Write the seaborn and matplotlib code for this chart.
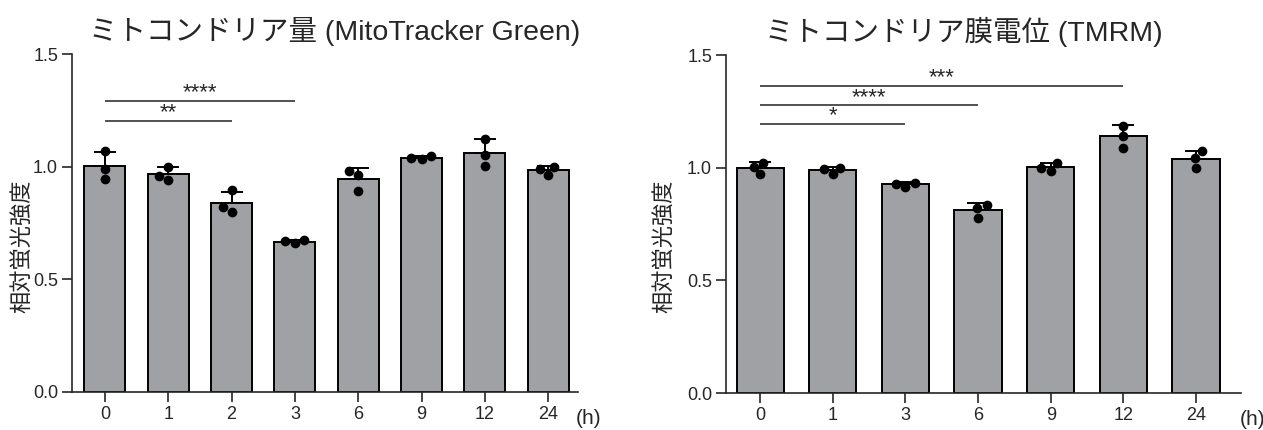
import pandas as pd
import numpy as np
import matplotlib
matplotlib.use("Agg")
import matplotlib.pyplot as plt
import seaborn as sns

# left panel: MitoTracker Green, three replicates per time point
green_times = ["0", "1", "2", "3", "6", "9", "12", "24"]
green_vals = [
    [1.07, 0.99, 0.945],
    [1.0, 0.94, 0.96],
    [0.895, 0.80, 0.82],
    [0.66, 0.675, 0.668],
    [0.982, 0.964, 0.89],
    [1.035, 1.046, 1.04],
    [1.125, 1.05, 1.005],
    [0.963, 0.999, 0.988],
]
green_sig = [("0", "2", "**", 1.204), ("0", "3", "****", 1.293)]

# right panel: TMRM
tmrm_times = ["0", "1", "3", "6", "9", "12", "24"]
tmrm_vals = [
    [1.02, 0.97, 1.003],
    [0.97, 1.0, 0.994],
    [0.916, 0.933, 0.929],
    [0.836, 0.821, 0.778],
    [0.987, 1.02, 1.0],
    [1.187, 1.141, 1.089],
    [1.074, 1.042, 0.999],
]
tmrm_sig = [("0", "3", "*", 1.196), ("0", "6", "****", 1.277), ("0", "12", "***", 1.364)]

titles = ["ミトコンドリア量 (MitoTracker Green)", "ミトコンドリア膜電位 (TMRM)"]
ylabel = "相対蛍光強度"
yticks = [0.0, 0.5, 1.0, 1.5]

sns.set_style("ticks")
plt.rcParams["font.family"] = ["Liberation Sans", "Noto Sans CJK JP", "DejaVu Sans"]
plt.rcParams["axes.linewidth"] = 1.2

BAR = "#a0a1a5"


def long_df(times, vals):
    rows = []
    for t, vs in zip(times, vals):
        for v in vs:
            rows.append({"time": t, "value": v})
    return pd.DataFrame(rows)


fig = plt.figure(figsize=(12.63, 4.30), dpi=100)
ax1 = fig.add_axes([0.0570, 0.0884, 0.4006, 0.786])
ax2 = fig.add_axes([0.5748, 0.0860, 0.4078, 0.786])

panels = [
    (ax1, green_times, green_vals, green_sig, titles[0], (-0.52, 7.47), 0.52, (-0.075, 0.432)),
    (ax2, tmrm_times, tmrm_vals, tmrm_sig, titles[1], (-0.47, 6.62), 0.462, (-0.097, 0.435)),
]

for ax, times, vals, sig, title, xlim, tx, lab in panels:
    df = long_df(times, vals)
    sns.barplot(data=df, x="time", y="value", order=times, errorbar=None,
                color=BAR, saturation=1, width=0.65, edgecolor="black",
                linewidth=1.4, ax=ax, zorder=2)
    stats = df.groupby("time", sort=False)["value"].agg(["mean", "std"]).reindex(times)
    pos = np.arange(len(times))
    ax.errorbar(pos, stats["mean"], yerr=[np.zeros(len(times)), stats["std"]],
                fmt="none", ecolor="black", elinewidth=1.4, capsize=8,
                capthick=1.4, zorder=3)
    sns.swarmplot(data=df, x="time", y="value", order=times, color="black",
                  size=7, ax=ax, zorder=4)

    for a, b, stars, y in sig:
        xa, xb = times.index(a), times.index(b)
        ax.plot([xa, xb], [y, y], color="#222222", lw=1.1, solid_capstyle="butt")
        ax.text((xa + xb) / 2, y - 0.012, stars, ha="center", va="bottom", fontsize=16)

    ax.set_xlim(*xlim)
    ax.set_ylim(0, 1.5)
    ax.set_yticks(yticks)
    ax.set_yticklabels([f"{t:.1f}" for t in yticks])
    ax.tick_params(axis="both", labelsize=13, length=7, width=1.2, direction="out", pad=3)
    ax.set_xlabel("")
    ax.set_ylabel(ylabel, fontsize=16)
    ax.yaxis.set_label_coords(*lab)
    ax.set_title(title, fontsize=20.5, x=tx, pad=10)
    ax.annotate("(h)", xy=(1.0, 0), xycoords="axes fraction", xytext=(8, -12),
                textcoords="offset points", ha="center", va="top", fontsize=15)
    sns.despine(ax=ax)

fig.savefig("out.png", dpi=100)
plt.close("all")
